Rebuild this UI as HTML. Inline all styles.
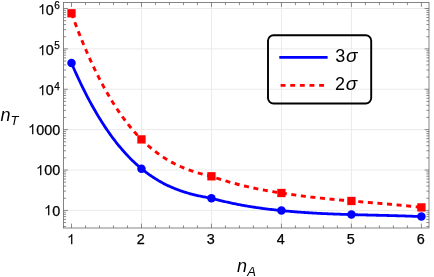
<!DOCTYPE html>
<html><head><meta charset="utf-8"><style>
html,body{margin:0;padding:0;background:#fff;}
body{width:434px;height:277px;position:relative;overflow:hidden;font-family:"Liberation Sans",sans-serif;color:#000;}
#txt{position:absolute;left:0;top:0;width:434px;height:277px;will-change:transform;}
.t{position:absolute;font-size:14.4px;line-height:16px;white-space:nowrap;-webkit-text-stroke:0.25px #000;}
.one{width:0.5562em;height:0.7188em;vertical-align:baseline;display:inline-block;overflow:visible;}
.sup{font-size:10px;position:relative;top:-5.6px;line-height:0;margin-left:0.6px;}
.ax{position:absolute;font-style:italic;font-size:18px;line-height:20px;white-space:nowrap;}
.sub{font-size:13px;position:relative;top:4px;line-height:0;margin-left:0.3px;}
.lg{position:absolute;font-size:18px;line-height:20px;white-space:nowrap;}
.lg i{font-style:italic;font-size:19px;line-height:0;margin-left:0.8px;}
</style></head><body>
<svg width="434" height="277" viewBox="0 0 434 277" style="position:absolute;left:0;top:0">
<rect width="434" height="277" fill="#fff"/>
<path d="M141.48,2.5V228.0M211.46,2.5V228.0M281.44,2.5V228.0M351.42,2.5V228.0M63.5,210.40H429.0M63.5,170.02H429.0M63.5,129.64H429.0M63.5,89.26H429.0M63.5,48.88H429.0M63.5,8.50H429.0" stroke="#ebebeb" stroke-width="1" fill="none"/>
<path d="M71.5,13.30L72.5,16.05L73.5,18.77L74.5,21.46L75.5,24.11L76.5,26.74L77.5,29.33L78.5,31.89L79.5,34.42L80.5,36.92L81.5,39.39L82.5,41.83L83.5,44.24L84.5,46.62L85.5,48.97L86.5,51.29L87.5,53.58L88.5,55.84L89.5,58.07L90.5,60.28L91.5,62.45L92.5,64.60L93.5,66.72L94.5,68.81L95.5,70.88L96.5,72.91L97.5,74.92L98.5,76.90L99.5,78.86L100.5,80.79L101.5,82.69L102.5,84.57L103.5,86.42L104.5,88.24L105.5,90.04L106.5,91.81L107.5,93.56L108.5,95.28L109.5,96.98L110.5,98.65L111.5,100.30L112.5,101.93L113.5,103.53L114.5,105.10L115.5,106.66L116.5,108.19L117.5,109.69L118.5,111.18L119.5,112.64L120.5,114.08L121.5,115.49L122.5,116.88L123.5,118.26L124.5,119.60L125.5,120.93L126.5,122.24L127.5,123.52L128.5,124.79L129.5,126.03L130.5,127.25L131.5,128.46L132.5,129.64L133.5,130.80L134.5,131.94L135.5,133.07L136.5,134.17L137.5,135.25L138.5,136.32L139.5,137.36L140.5,138.39L141.5,139.40L142.5,140.39L143.5,141.36L144.5,142.32L145.5,143.26L146.5,144.18L147.5,145.08L148.5,145.97L149.5,146.83L150.5,147.69L151.5,148.52L152.5,149.34L153.5,150.15L154.5,150.94L155.5,151.71L156.5,152.47L157.5,153.21L158.5,153.93L159.5,154.65L160.5,155.34L161.5,156.03L162.5,156.70L163.5,157.35L164.5,157.99L165.5,158.62L166.5,159.24L167.5,159.84L168.5,160.42L169.5,161.00L170.5,161.56L171.5,162.11L172.5,162.65L173.5,163.18L174.5,163.69L175.5,164.20L176.5,164.69L177.5,165.17L178.5,165.64L179.5,166.10L180.5,166.54L181.5,166.98L182.5,167.41L183.5,167.83L184.5,168.24L185.5,168.63L186.5,169.02L187.5,169.40L188.5,169.77L189.5,170.14L190.5,170.49L191.5,170.84L192.5,171.17L193.5,171.50L194.5,171.82L195.5,172.14L196.5,172.44L197.5,172.74L198.5,173.04L199.5,173.32L200.5,173.60L201.5,173.87L202.5,174.14L203.5,174.40L204.5,174.66L205.5,174.91L206.5,175.15L207.5,175.39L208.5,175.62L209.5,175.85L210.5,176.08L211.5,176.30L212.5,176.65L213.5,177.00L214.5,177.35L215.5,177.69L216.5,178.03L217.5,178.36L218.5,178.69L219.5,179.01L220.5,179.34L221.5,179.65L222.5,179.97L223.5,180.28L224.5,180.59L225.5,180.89L226.5,181.19L227.5,181.48L228.5,181.77L229.5,182.06L230.5,182.35L231.5,182.63L232.5,182.91L233.5,183.18L234.5,183.45L235.5,183.72L236.5,183.99L237.5,184.25L238.5,184.51L239.5,184.76L240.5,185.01L241.5,185.26L242.5,185.51L243.5,185.75L244.5,185.99L245.5,186.22L246.5,186.46L247.4,186.69L248.4,186.91L249.4,187.14L250.4,187.36L251.4,187.58L252.4,187.79L253.4,188.01L254.4,188.22L255.4,188.43L256.4,188.63L257.4,188.83L258.4,189.03L259.4,189.23L260.4,189.43L261.4,189.62L262.4,189.81L263.4,190.00L264.4,190.18L265.4,190.37L266.4,190.55L267.4,190.72L268.4,190.90L269.4,191.07L270.4,191.25L271.4,191.42L272.4,191.58L273.4,191.75L274.4,191.91L275.4,192.07L276.4,192.23L277.4,192.39L278.4,192.54L279.4,192.70L280.4,192.85L281.4,193.00L282.4,193.16L283.4,193.32L284.4,193.47L285.4,193.62L286.4,193.78L287.4,193.93L288.4,194.07L289.4,194.22L290.4,194.37L291.4,194.51L292.4,194.65L293.4,194.79L294.4,194.93L295.4,195.07L296.4,195.20L297.4,195.34L298.4,195.47L299.4,195.60L300.4,195.73L301.4,195.86L302.4,195.99L303.4,196.12L304.4,196.24L305.4,196.36L306.4,196.49L307.4,196.61L308.4,196.73L309.4,196.85L310.4,196.96L311.4,197.08L312.4,197.19L313.4,197.31L314.4,197.42L315.4,197.53L316.4,197.64L317.4,197.75L318.4,197.86L319.4,197.97L320.4,198.08L321.4,198.18L322.4,198.29L323.4,198.39L324.4,198.49L325.4,198.59L326.4,198.70L327.4,198.80L328.4,198.89L329.4,198.99L330.4,199.09L331.4,199.19L332.4,199.28L333.4,199.38L334.4,199.47L335.4,199.57L336.4,199.66L337.4,199.76L338.4,199.85L339.4,199.94L340.4,200.03L341.4,200.12L342.4,200.21L343.4,200.30L344.4,200.39L345.4,200.48L346.4,200.57L347.4,200.65L348.4,200.74L349.4,200.83L350.4,200.91L351.4,201.00L352.4,201.09L353.4,201.17L354.4,201.26L355.4,201.34L356.4,201.43L357.4,201.51L358.4,201.59L359.4,201.68L360.4,201.76L361.4,201.85L362.4,201.93L363.4,202.01L364.4,202.10L365.4,202.18L366.4,202.26L367.4,202.35L368.4,202.43L369.4,202.51L370.4,202.60L371.4,202.68L372.4,202.76L373.4,202.85L374.4,202.93L375.4,203.02L376.4,203.10L377.4,203.19L378.4,203.27L379.4,203.35L380.4,203.44L381.4,203.52L382.4,203.61L383.4,203.70L384.4,203.78L385.4,203.87L386.4,203.96L387.4,204.04L388.4,204.13L389.4,204.22L390.4,204.31L391.4,204.40L392.4,204.49L393.4,204.58L394.4,204.67L395.4,204.76L396.4,204.85L397.4,204.94L398.4,205.04L399.4,205.13L400.4,205.23L401.4,205.32L402.4,205.42L403.4,205.51L404.4,205.61L405.4,205.71L406.4,205.81L407.4,205.91L408.4,206.01L409.4,206.11L410.4,206.21L411.4,206.31L412.4,206.42L413.4,206.52L414.4,206.63L415.4,206.74L416.4,206.84L417.4,206.95L418.4,207.06L419.4,207.17L420.4,207.29L421.4,207.40" fill="none" stroke="#ff0000" stroke-width="2.9" stroke-dasharray="5.0 4.615"/>
<path d="M71.5,63.10L72.5,65.42L73.5,67.71L74.5,69.98L75.5,72.21L76.5,74.42L77.5,76.61L78.5,78.76L79.5,80.90L80.5,83.00L81.5,85.08L82.5,87.13L83.5,89.16L84.5,91.16L85.5,93.14L86.5,95.09L87.5,97.02L88.5,98.92L89.5,100.79L90.5,102.65L91.5,104.47L92.5,106.28L93.5,108.06L94.5,109.81L95.5,111.55L96.5,113.26L97.5,114.94L98.5,116.60L99.5,118.24L100.5,119.86L101.5,121.46L102.5,123.03L103.5,124.58L104.5,126.11L105.5,127.61L106.5,129.10L107.5,130.56L108.5,132.00L109.5,133.42L110.5,134.82L111.5,136.20L112.5,137.56L113.5,138.89L114.5,140.21L115.5,141.51L116.5,142.78L117.5,144.04L118.5,145.28L119.5,146.49L120.5,147.69L121.5,148.87L122.5,150.03L123.5,151.17L124.5,152.30L125.5,153.40L126.5,154.49L127.5,155.55L128.5,156.60L129.5,157.64L130.5,158.65L131.5,159.65L132.5,160.63L133.5,161.59L134.5,162.54L135.5,163.47L136.5,164.38L137.5,165.28L138.5,166.16L139.5,167.02L140.5,167.87L141.5,168.70L142.5,169.52L143.5,170.32L144.5,171.10L145.5,171.88L146.5,172.63L147.5,173.37L148.5,174.10L149.5,174.81L150.5,175.51L151.5,176.20L152.5,176.87L153.5,177.53L154.5,178.17L155.5,178.80L156.5,179.42L157.5,180.02L158.5,180.62L159.5,181.19L160.5,181.76L161.5,182.32L162.5,182.86L163.5,183.39L164.5,183.91L165.5,184.41L166.5,184.91L167.5,185.39L168.5,185.87L169.5,186.33L170.5,186.78L171.5,187.22L172.5,187.65L173.5,188.08L174.5,188.49L175.5,188.89L176.5,189.28L177.5,189.66L178.5,190.03L179.5,190.40L180.5,190.75L181.5,191.09L182.5,191.43L183.5,191.76L184.5,192.08L185.5,192.39L186.5,192.69L187.5,192.99L188.5,193.28L189.5,193.56L190.5,193.83L191.5,194.10L192.5,194.36L193.5,194.61L194.5,194.86L195.5,195.10L196.5,195.33L197.5,195.56L198.5,195.78L199.5,196.00L200.5,196.21L201.5,196.41L202.5,196.61L203.5,196.80L204.5,196.99L205.5,197.18L206.5,197.36L207.5,197.54L208.5,197.71L209.5,197.88L210.5,198.04L211.5,198.20L212.5,198.48L213.5,198.75L214.5,199.02L215.5,199.28L216.5,199.55L217.5,199.81L218.5,200.06L219.5,200.31L220.5,200.56L221.5,200.81L222.5,201.05L223.5,201.29L224.5,201.53L225.5,201.76L226.5,201.99L227.5,202.22L228.5,202.44L229.5,202.66L230.5,202.88L231.5,203.09L232.5,203.30L233.5,203.51L234.5,203.72L235.5,203.92L236.5,204.12L237.5,204.32L238.5,204.51L239.5,204.70L240.5,204.89L241.5,205.08L242.5,205.26L243.5,205.44L244.5,205.62L245.5,205.79L246.5,205.97L247.4,206.14L248.4,206.30L249.4,206.47L250.4,206.63L251.4,206.79L252.4,206.95L253.4,207.10L254.4,207.25L255.4,207.40L256.4,207.55L257.4,207.70L258.4,207.84L259.4,207.98L260.4,208.12L261.4,208.26L262.4,208.39L263.4,208.52L264.4,208.65L265.4,208.78L266.4,208.90L267.4,209.03L268.4,209.15L269.4,209.27L270.4,209.39L271.4,209.50L272.4,209.61L273.4,209.73L274.4,209.83L275.4,209.94L276.4,210.05L277.4,210.15L278.4,210.25L279.4,210.35L280.4,210.45L281.4,210.55L282.4,210.65L283.4,210.75L284.4,210.85L285.4,210.95L286.4,211.04L287.4,211.13L288.4,211.23L289.4,211.32L290.4,211.40L291.4,211.49L292.4,211.58L293.4,211.66L294.4,211.74L295.4,211.82L296.4,211.90L297.4,211.98L298.4,212.06L299.4,212.13L300.4,212.21L301.4,212.28L302.4,212.35L303.4,212.42L304.4,212.49L305.4,212.56L306.4,212.62L307.4,212.69L308.4,212.75L309.4,212.82L310.4,212.88L311.4,212.94L312.4,213.00L313.4,213.05L314.4,213.11L315.4,213.17L316.4,213.22L317.4,213.28L318.4,213.33L319.4,213.38L320.4,213.43L321.4,213.48L322.4,213.53L323.4,213.58L324.4,213.62L325.4,213.67L326.4,213.71L327.4,213.76L328.4,213.80L329.4,213.84L330.4,213.88L331.4,213.93L332.4,213.97L333.4,214.00L334.4,214.04L335.4,214.08L336.4,214.12L337.4,214.15L338.4,214.19L339.4,214.22L340.4,214.26L341.4,214.29L342.4,214.33L343.4,214.36L344.4,214.39L345.4,214.42L346.4,214.45L347.4,214.48L348.4,214.51L349.4,214.54L350.4,214.57L351.4,214.60L352.4,214.63L353.4,214.66L354.4,214.68L355.4,214.71L356.4,214.74L357.4,214.76L358.4,214.79L359.4,214.81L360.4,214.84L361.4,214.87L362.4,214.89L363.4,214.92L364.4,214.94L365.4,214.96L366.4,214.99L367.4,215.01L368.4,215.04L369.4,215.06L370.4,215.08L371.4,215.11L372.4,215.13L373.4,215.15L374.4,215.18L375.4,215.20L376.4,215.23L377.4,215.25L378.4,215.27L379.4,215.30L380.4,215.32L381.4,215.34L382.4,215.37L383.4,215.39L384.4,215.42L385.4,215.44L386.4,215.47L387.4,215.49L388.4,215.52L389.4,215.54L390.4,215.57L391.4,215.59L392.4,215.62L393.4,215.65L394.4,215.67L395.4,215.70L396.4,215.73L397.4,215.76L398.4,215.78L399.4,215.81L400.4,215.84L401.4,215.87L402.4,215.90L403.4,215.93L404.4,215.97L405.4,216.00L406.4,216.03L407.4,216.06L408.4,216.10L409.4,216.13L410.4,216.17L411.4,216.20L412.4,216.24L413.4,216.28L414.4,216.31L415.4,216.35L416.4,216.39L417.4,216.43L418.4,216.47L419.4,216.51L420.4,216.56L421.4,216.60" fill="none" stroke="#0000ff" stroke-width="2.8"/>
<rect x="67.35" y="9.15" width="8.3" height="8.3" fill="#ff0000"/>
<rect x="137.33" y="135.25" width="8.3" height="8.3" fill="#ff0000"/>
<rect x="207.31" y="172.15" width="8.3" height="8.3" fill="#ff0000"/>
<rect x="277.29" y="188.85" width="8.3" height="8.3" fill="#ff0000"/>
<rect x="347.27" y="196.85" width="8.3" height="8.3" fill="#ff0000"/>
<rect x="417.25" y="203.25" width="8.3" height="8.3" fill="#ff0000"/>
<circle cx="71.50" cy="63.10" r="4.25" fill="#0000ff"/>
<circle cx="141.48" cy="168.70" r="4.25" fill="#0000ff"/>
<circle cx="211.46" cy="198.20" r="4.25" fill="#0000ff"/>
<circle cx="281.44" cy="210.55" r="4.25" fill="#0000ff"/>
<circle cx="351.42" cy="214.60" r="4.25" fill="#0000ff"/>
<circle cx="421.40" cy="216.60" r="4.25" fill="#0000ff"/>
<rect x="63.5" y="2.5" width="365.50" height="225.50" fill="none" stroke="#666666" stroke-width="0.8"/>
<path d="M71.50,228.0v-4.4M71.50,2.5v4.4M85.50,228.0v-2.6M85.50,2.5v2.6M99.49,228.0v-2.6M99.49,2.5v2.6M113.49,228.0v-2.6M113.49,2.5v2.6M127.48,228.0v-2.6M127.48,2.5v2.6M141.48,228.0v-4.4M141.48,2.5v4.4M155.48,228.0v-2.6M155.48,2.5v2.6M169.47,228.0v-2.6M169.47,2.5v2.6M183.47,228.0v-2.6M183.47,2.5v2.6M197.46,228.0v-2.6M197.46,2.5v2.6M211.46,228.0v-4.4M211.46,2.5v4.4M225.46,228.0v-2.6M225.46,2.5v2.6M239.45,228.0v-2.6M239.45,2.5v2.6M253.45,228.0v-2.6M253.45,2.5v2.6M267.44,228.0v-2.6M267.44,2.5v2.6M281.44,228.0v-4.4M281.44,2.5v4.4M295.44,228.0v-2.6M295.44,2.5v2.6M309.43,228.0v-2.6M309.43,2.5v2.6M323.43,228.0v-2.6M323.43,2.5v2.6M337.42,228.0v-2.6M337.42,2.5v2.6M351.42,228.0v-4.4M351.42,2.5v4.4M365.42,228.0v-2.6M365.42,2.5v2.6M379.41,228.0v-2.6M379.41,2.5v2.6M393.41,228.0v-2.6M393.41,2.5v2.6M407.40,228.0v-2.6M407.40,2.5v2.6M421.40,228.0v-4.4M421.40,2.5v4.4M63.5,226.47h2.6M429.0,226.47h-2.6M63.5,222.56h2.6M429.0,222.56h-2.6M63.5,219.36h2.6M429.0,219.36h-2.6M63.5,216.65h2.6M429.0,216.65h-2.6M63.5,214.31h2.6M429.0,214.31h-2.6M63.5,212.25h2.6M429.0,212.25h-2.6M63.5,210.40h4.4M429.0,210.40h-4.4M63.5,198.24h2.6M429.0,198.24h-2.6M63.5,191.13h2.6M429.0,191.13h-2.6M63.5,186.09h2.6M429.0,186.09h-2.6M63.5,182.18h2.6M429.0,182.18h-2.6M63.5,178.98h2.6M429.0,178.98h-2.6M63.5,176.27h2.6M429.0,176.27h-2.6M63.5,173.93h2.6M429.0,173.93h-2.6M63.5,171.87h2.6M429.0,171.87h-2.6M63.5,170.02h4.4M429.0,170.02h-4.4M63.5,157.86h2.6M429.0,157.86h-2.6M63.5,150.75h2.6M429.0,150.75h-2.6M63.5,145.71h2.6M429.0,145.71h-2.6M63.5,141.80h2.6M429.0,141.80h-2.6M63.5,138.60h2.6M429.0,138.60h-2.6M63.5,135.89h2.6M429.0,135.89h-2.6M63.5,133.55h2.6M429.0,133.55h-2.6M63.5,131.49h2.6M429.0,131.49h-2.6M63.5,129.64h4.4M429.0,129.64h-4.4M63.5,117.48h2.6M429.0,117.48h-2.6M63.5,110.37h2.6M429.0,110.37h-2.6M63.5,105.33h2.6M429.0,105.33h-2.6M63.5,101.42h2.6M429.0,101.42h-2.6M63.5,98.22h2.6M429.0,98.22h-2.6M63.5,95.51h2.6M429.0,95.51h-2.6M63.5,93.17h2.6M429.0,93.17h-2.6M63.5,91.11h2.6M429.0,91.11h-2.6M63.5,89.26h4.4M429.0,89.26h-4.4M63.5,77.10h2.6M429.0,77.10h-2.6M63.5,69.99h2.6M429.0,69.99h-2.6M63.5,64.95h2.6M429.0,64.95h-2.6M63.5,61.04h2.6M429.0,61.04h-2.6M63.5,57.84h2.6M429.0,57.84h-2.6M63.5,55.13h2.6M429.0,55.13h-2.6M63.5,52.79h2.6M429.0,52.79h-2.6M63.5,50.73h2.6M429.0,50.73h-2.6M63.5,48.88h4.4M429.0,48.88h-4.4M63.5,36.72h2.6M429.0,36.72h-2.6M63.5,29.61h2.6M429.0,29.61h-2.6M63.5,24.57h2.6M429.0,24.57h-2.6M63.5,20.66h2.6M429.0,20.66h-2.6M63.5,17.46h2.6M429.0,17.46h-2.6M63.5,14.75h2.6M429.0,14.75h-2.6M63.5,12.41h2.6M429.0,12.41h-2.6M63.5,10.35h2.6M429.0,10.35h-2.6M63.5,8.50h4.4M429.0,8.50h-4.4" stroke="#666666" stroke-width="0.75" fill="none"/>
<rect x="268" y="35.3" width="103.2" height="68.2" rx="5.5" ry="5.5" fill="none" stroke="#000" stroke-width="1.9"/>
<line x1="279.3" y1="57.4" x2="327.6" y2="57.4" stroke="#0000ff" stroke-width="2.7"/>
<line x1="280.6" y1="85.4" x2="324.1" y2="85.4" stroke="#ff0000" stroke-width="2.8" stroke-dasharray="4.9 4.74"/>
</svg>
<div id="txt">
<div class="t" style="right:373.7px;top:202.60px;"><svg class="one" viewBox="0 0 1139 1472"><path transform="translate(0,1472) scale(1,-1)" d="M763 0H583V1147Q518 1085 412.500 1023Q307 961 223 930V1104Q374 1175 487 1276Q600 1377 647 1472H763Z"/></svg>0</div><div class="t" style="right:373.7px;top:162.22px;"><svg class="one" viewBox="0 0 1139 1472"><path transform="translate(0,1472) scale(1,-1)" d="M763 0H583V1147Q518 1085 412.500 1023Q307 961 223 930V1104Q374 1175 487 1276Q600 1377 647 1472H763Z"/></svg>00</div><div class="t" style="right:373.7px;top:121.84px;"><svg class="one" viewBox="0 0 1139 1472"><path transform="translate(0,1472) scale(1,-1)" d="M763 0H583V1147Q518 1085 412.500 1023Q307 961 223 930V1104Q374 1175 487 1276Q600 1377 647 1472H763Z"/></svg>000</div><div class="t" style="right:374.2px;top:82.36px;"><svg class="one" viewBox="0 0 1139 1472"><path transform="translate(0,1472) scale(1,-1)" d="M763 0H583V1147Q518 1085 412.500 1023Q307 961 223 930V1104Q374 1175 487 1276Q600 1377 647 1472H763Z"/></svg>0<span class="sup">4</span></div><div class="t" style="right:374.2px;top:41.98px;"><svg class="one" viewBox="0 0 1139 1472"><path transform="translate(0,1472) scale(1,-1)" d="M763 0H583V1147Q518 1085 412.500 1023Q307 961 223 930V1104Q374 1175 487 1276Q600 1377 647 1472H763Z"/></svg>0<span class="sup">5</span></div><div class="t" style="right:374.2px;top:1.60px;"><svg class="one" viewBox="0 0 1139 1472"><path transform="translate(0,1472) scale(1,-1)" d="M763 0H583V1147Q518 1085 412.500 1023Q307 961 223 930V1104Q374 1175 487 1276Q600 1377 647 1472H763Z"/></svg>0<span class="sup">6</span></div><div class="t" style="left:60.90px;width:20px;text-align:center;top:231.2px;"><svg class="one" viewBox="0 0 1139 1472"><path transform="translate(0,1472) scale(1,-1)" d="M763 0H583V1147Q518 1085 412.500 1023Q307 961 223 930V1104Q374 1175 487 1276Q600 1377 647 1472H763Z"/></svg></div><div class="t" style="left:130.88px;width:20px;text-align:center;top:231.2px;">2</div><div class="t" style="left:200.86px;width:20px;text-align:center;top:231.2px;">3</div><div class="t" style="left:270.84px;width:20px;text-align:center;top:231.2px;">4</div><div class="t" style="left:340.82px;width:20px;text-align:center;top:231.2px;">5</div><div class="t" style="left:410.80px;width:20px;text-align:center;top:231.2px;">6</div>
<div class="ax" style="left:0.6px;top:104.7px;">n<span class="sub" style="margin-left:-0.2px">T</span></div>
<div class="ax" style="left:237px;top:256.0px;">n<span class="sub">A</span></div>
<div class="lg" style="left:335.2px;top:46.1px;">3<i>&sigma;</i></div>
<div class="lg" style="left:335.0px;top:74.1px;">2<i>&sigma;</i></div>
</div>
</body></html>
